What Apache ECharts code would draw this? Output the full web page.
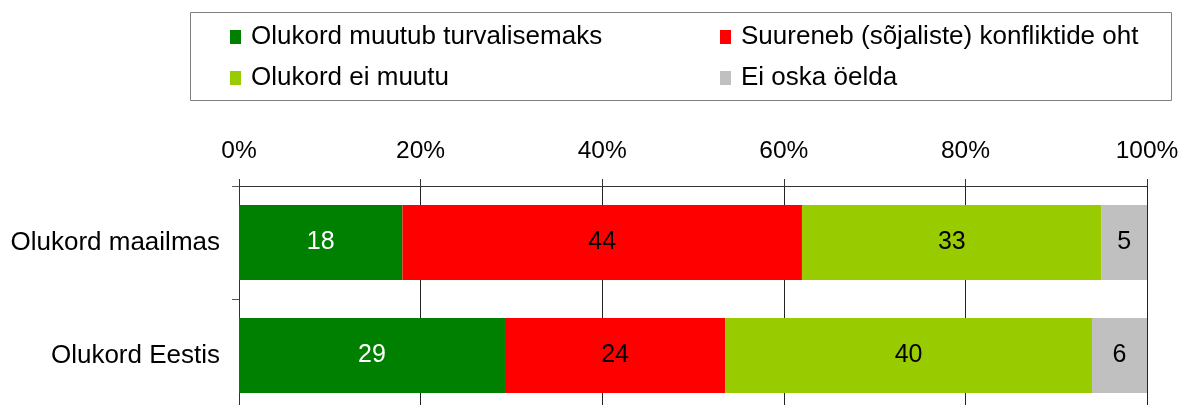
<!DOCTYPE html>
<html>
<head>
<meta charset="utf-8">
<script src="https://cdn.jsdelivr.net/npm/echarts@6/dist/echarts.min.js"></script>
<style>
  html, body { margin: 0; padding: 0; background: #fff; }
  #chart { width: 1180px; height: 405px; }
</style>
</head>
<body>
<div id="chart"></div>
<script>
    // andmed
    var categories = ['Olukord maailmas', 'Olukord Eestis'];
    var seriesNames = ['Olukord muutub turvalisemaks', 'Suureneb (sõjaliste) konfliktide oht', 'Olukord ei muutu', 'Ei oska öelda'];
    var turvalisemaks = [18, 29];
    var konfliktOht = [44, 24];
    var eiMuutu = [33, 40];
    var eiOska = [5, 6];
    var xTicks = [0, 20, 40, 60, 80, 100];

    var values = [turvalisemaks, konfliktOht, eiMuutu, eiOska];
    var colors = ['#008000', '#ff0000', '#99cc00', '#c0c0c0'];
    var labelColors = ['#ffffff', '#000000', '#000000', '#000000'];

    // rea summad (100% tulbad)
    var sums = categories.map(function (c, i) {
        var s = 0;
        values.forEach(function (arr) { s += arr[i]; });
        return s;
    });

    var myChart = echarts.init(document.getElementById('chart'));

    var legendPos = [
        { left: 230, top: 24 },
        { left: 720, top: 24 },
        { left: 230, top: 65 },
        { left: 720, top: 65 }
    ];

    var option = {
        animation: false,
        textStyle: { fontFamily: 'Liberation Sans, Arial, sans-serif' },
        legend: seriesNames.map(function (name, i) {
            return {
                data: [name],
                left: legendPos[i].left,
                top: legendPos[i].top,
                padding: 0,
                icon: 'rect',
                itemWidth: 11,
                itemHeight: 14,
                textStyle: { fontSize: 26, color: '#000', padding: [0, 0, 0, 5] },
                selectedMode: false
            };
        }),
        graphic: [{
            type: 'rect',
            shape: { x: 190.5, y: 12.5, width: 981, height: 88 },
            style: { fill: 'none', stroke: '#808080', lineWidth: 1 }
        }],
        grid: {
            left: 239,
            right: 33,
            top: 186,
            height: 226,
            outerBoundsMode: 'none'
        },
        xAxis: {
            type: 'value',
            position: 'top',
            min: xTicks[0],
            max: xTicks[xTicks.length - 1],
            interval: 20,
            axisLine: { show: true, lineStyle: { color: '#333', width: 1 } },
            axisTick: { show: true, length: 7, lineStyle: { color: '#333' } },
            axisLabel: { fontSize: 24.5, color: '#000', margin: 22, formatter: '{value}%' },
            splitLine: { show: true, lineStyle: { color: '#222', width: 1 } }
        },
        yAxis: {
            type: 'category',
            inverse: true,
            data: categories,
            axisLine: { show: true, lineStyle: { color: '#333', width: 1 } },
            axisTick: { show: true, length: 7, lineStyle: { color: '#555' } },
            axisLabel: { fontSize: 26, color: '#000', margin: 19 }
        },
        series: seriesNames.map(function (name, k) {
            return {
                name: name,
                type: 'bar',
                stack: 'kokku',
                barWidth: 75,
                itemStyle: { color: colors[k] },
                label: {
                    show: true,
                    position: 'inside',
                    fontSize: 25,
                    color: labelColors[k],
                    formatter: function (p) { return values[k][p.dataIndex]; }
                },
                data: values[k].map(function (v, i) { return v / sums[i] * 100; })
            };
        })
    };

    myChart.setOption(option);
</script>
</body>
</html>
